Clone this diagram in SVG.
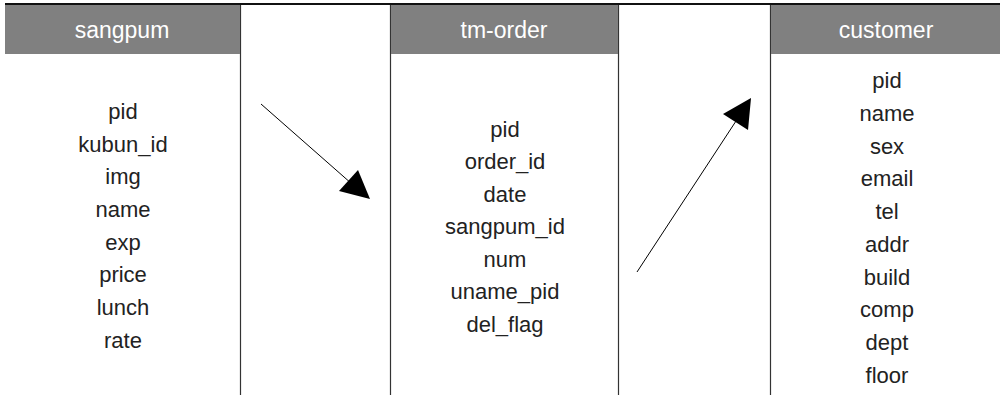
<svg xmlns="http://www.w3.org/2000/svg" width="1000" height="395" viewBox="0 0 1000 395">
<style>
.hdr{fill:#808080}
.ht{font-family:"Liberation Sans",Arial,sans-serif;font-size:23px;fill:#ffffff;text-anchor:middle}
.ft{font-family:"Liberation Sans",Arial,sans-serif;font-size:22px;fill:#222222;text-anchor:middle}
.vl{stroke:#333333;stroke-width:1.2}
.conn{stroke:#000;stroke-width:1}
</style>
<rect width="1000" height="395" fill="#ffffff"/>
<g id="frame">
<line x1="5" y1="4" x2="1000" y2="4" stroke="#111" stroke-width="2"/>
<line class="vl" x1="240.5" y1="5" x2="240.5" y2="395"/>
<line class="vl" x1="390.5" y1="5" x2="390.5" y2="395"/>
<line class="vl" x1="618.5" y1="5" x2="618.5" y2="395"/>
<line class="vl" x1="770.5" y1="5" x2="770.5" y2="395"/>
</g>
<g id="sangpum">
<rect class="hdr" x="5" y="5" width="235" height="49"/>
<text class="ht" x="122" y="38">sangpum</text>
<text class="ft" x="123" y="119">pid</text>
<text class="ft" x="123" y="152">kubun_id</text>
<text class="ft" x="123" y="184">img</text>
<text class="ft" x="123" y="217">name</text>
<text class="ft" x="123" y="250">exp</text>
<text class="ft" x="123" y="282">price</text>
<text class="ft" x="123" y="315">lunch</text>
<text class="ft" x="123" y="348">rate</text>
</g>
<g id="tm-order">
<rect class="hdr" x="391" y="5" width="227" height="49"/>
<text class="ht" x="504" y="38">tm-order</text>
<text class="ft" x="505" y="137">pid</text>
<text class="ft" x="505" y="169">order_id</text>
<text class="ft" x="505" y="202">date</text>
<text class="ft" x="505" y="234">sangpum_id</text>
<text class="ft" x="505" y="267">num</text>
<text class="ft" x="505" y="299">uname_pid</text>
<text class="ft" x="505" y="332">del_flag</text>
</g>
<g id="customer">
<rect class="hdr" x="771" y="5" width="229" height="49"/>
<text class="ht" x="886" y="38">customer</text>
<text class="ft" x="887" y="88">pid</text>
<text class="ft" x="887" y="121">name</text>
<text class="ft" x="887" y="154">sex</text>
<text class="ft" x="887" y="186">email</text>
<text class="ft" x="887" y="219">tel</text>
<text class="ft" x="887" y="252">addr</text>
<text class="ft" x="887" y="285">build</text>
<text class="ft" x="887" y="317">comp</text>
<text class="ft" x="887" y="350">dept</text>
<text class="ft" x="887" y="383">floor</text>
</g>
<g id="connectors">
<line class="conn" x1="261" y1="104" x2="352" y2="184"/>
<polygon points="370,199 339,191 358,170" fill="#000"/>
<line class="conn" x1="637" y1="272" x2="738" y2="118"/>
<polygon points="751,98 723,114 748,130" fill="#000"/>
</g>
</svg>
